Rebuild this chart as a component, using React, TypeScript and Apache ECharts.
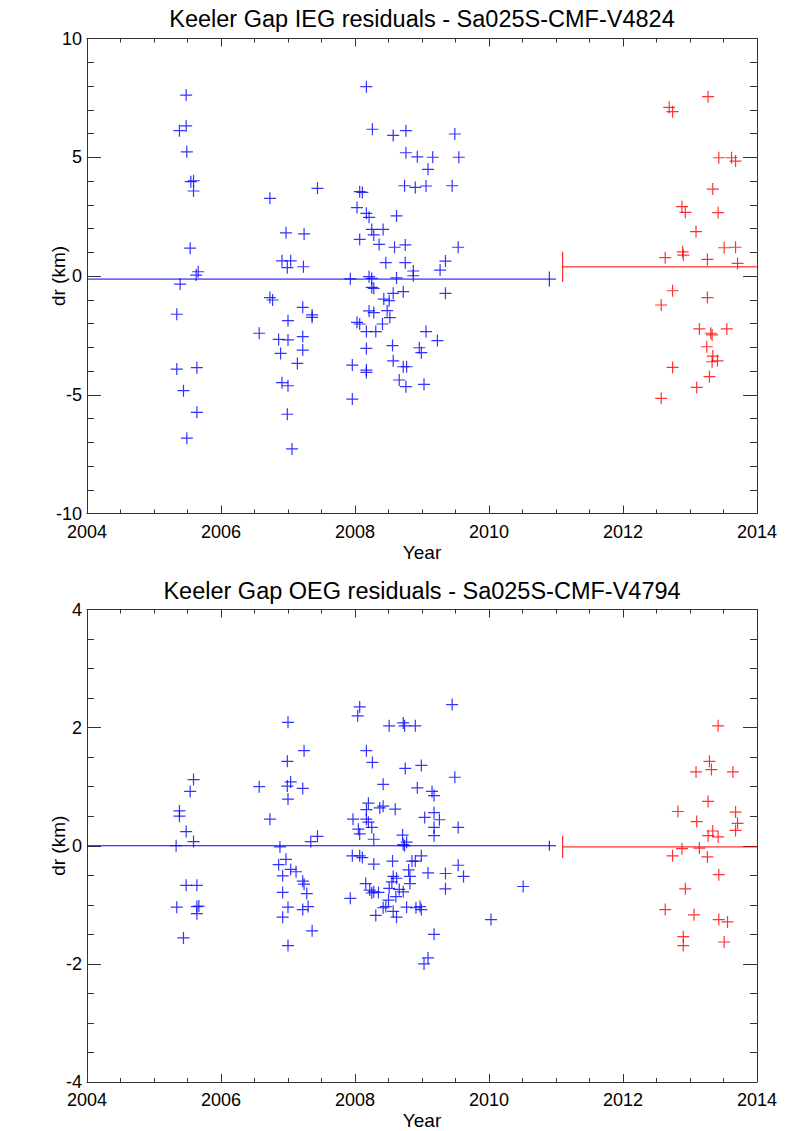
import React, { useEffect, useRef } from "react";
import * as echarts from "echarts";

// Keeler Gap inner edge (IEG) residuals, [year, dr km]
const iegEarly: number[][] = [
  [2005.48, 7.62], [2005.48, 6.32], [2005.38, 6.12], [2005.49, 5.23], [2005.55, 3.97], [2005.59, 4.01],
  [2005.59, 3.58], [2005.54, 1.17], [2005.66, 0.18], [2005.63, 0.04], [2006.73, 3.27], [2007.44, 3.69],
  [2006.97, 1.82], [2007.24, 1.77], [2006.91, 0.64], [2007.04, 0.64], [2006.99, 0.35], [2007.23, 0.39],
  [2005.39, -0.34], [2005.34, -1.61], [2005.34, -3.92], [2005.64, -3.86], [2005.44, -4.83], [2005.64, -5.74],
  [2005.49, -6.83], [2006.73, -0.91], [2006.77, -1.01], [2006.57, -2.41], [2007.0, -1.88], [2007.22, -1.32],
  [2007.36, -1.64], [2007.36, -1.74], [2006.86, -2.67], [2007.0, -2.69], [2007.22, -2.55], [2007.22, -3.12],
  [2006.89, -3.26], [2007.14, -3.68], [2006.91, -4.49], [2007.0, -4.62], [2006.99, -5.82], [2007.06, -7.28],
  [2008.17, 7.97], [2008.26, 6.18], [2008.57, 5.92], [2008.76, 6.12], [2009.49, 5.98], [2008.76, 5.19],
  [2008.93, 5.02], [2009.16, 5.0], [2009.55, 5.0], [2009.09, 4.49], [2008.74, 3.8], [2008.9, 3.73],
  [2009.06, 3.79], [2009.45, 3.8], [2008.07, 3.55], [2008.11, 3.52], [2008.03, 2.88], [2008.17, 2.64],
  [2008.21, 2.47], [2008.62, 2.53], [2008.25, 1.96], [2008.42, 1.96], [2008.07, 1.54], [2008.28, 1.73],
  [2008.36, 1.33], [2008.59, 1.21], [2008.75, 1.31], [2009.54, 1.21], [2008.46, 0.56], [2008.75, 0.56],
  [2009.35, 0.63], [2009.27, 0.25], [2008.87, 0.21], [2008.87, 0.01], [2008.21, -0.03], [2008.25, -0.1],
  [2007.93, -0.12], [2008.62, -0.08], [2008.25, -0.48], [2008.28, -0.52], [2008.57, -0.73], [2008.72, -0.66],
  [2009.35, -0.73], [2008.43, -0.97], [2008.51, -1.04], [2008.21, -1.47], [2008.28, -1.54], [2008.48, -1.46],
  [2008.52, -1.75], [2008.03, -1.95], [2008.07, -2.02], [2008.41, -2.02], [2008.17, -2.34], [2008.31, -2.34],
  [2009.06, -2.34], [2009.23, -2.72], [2008.17, -3.05], [2008.56, -2.93], [2008.96, -3.02], [2008.99, -3.23],
  [2007.96, -3.75], [2008.17, -3.96], [2008.17, -4.06], [2008.57, -3.57], [2008.72, -3.82], [2008.77, -3.82],
  [2008.66, -4.38], [2008.76, -4.66], [2009.03, -4.56], [2007.96, -5.18],
];

const iegLate: number[][] = [
  [2013.27, 7.55], [2012.69, 7.1], [2012.74, 6.92], [2013.43, 4.98], [2013.62, 4.98], [2013.68, 4.84],
  [2013.34, 3.66], [2012.88, 2.92], [2012.93, 2.68], [2013.42, 2.67], [2013.09, 1.87], [2013.51, 1.19],
  [2013.68, 1.21], [2012.89, 1.02], [2012.9, 0.88], [2012.63, 0.77], [2013.26, 0.7], [2013.71, 0.53],
  [2012.74, -0.62], [2013.26, -0.91], [2012.57, -1.22], [2013.14, -2.23], [2013.55, -2.23], [2013.31, -2.41],
  [2013.33, -2.48], [2013.25, -2.98], [2013.34, -3.37], [2013.33, -3.61], [2013.41, -3.57], [2012.74, -3.85],
  [2013.29, -4.24], [2013.1, -4.69], [2012.57, -5.15],
];

// Keeler Gap outer edge (OEG) residuals, [year, dr km]
const oegEarly: number[][] = [
  [2007.0, 2.09], [2007.24, 1.61], [2006.99, 1.43], [2005.59, 1.12], [2005.54, 0.92], [2006.57, 1.0],
  [2006.99, 1.01], [2007.04, 1.08], [2007.22, 0.97], [2007.0, 0.79], [2005.38, 0.59], [2005.38, 0.5],
  [2006.73, 0.45], [2005.48, 0.24], [2005.59, 0.07], [2007.34, 0.07], [2007.44, 0.16], [2005.33, 0.0],
  [2006.88, -0.02], [2006.97, -0.23], [2006.86, -0.32], [2006.92, -0.51], [2007.04, -0.4], [2007.12, -0.44],
  [2007.22, -0.6], [2007.24, -0.65], [2005.48, -0.67], [2005.64, -0.67], [2006.92, -0.79], [2007.28, -0.81],
  [2005.34, -1.04], [2005.64, -1.03], [2005.67, -1.02], [2005.64, -1.15], [2007.0, -1.04], [2007.3, -1.03],
  [2007.22, -1.08], [2006.92, -1.21], [2007.36, -1.44], [2005.44, -1.56], [2007.0, -1.69],
  [2008.07, 2.35], [2008.04, 2.2], [2009.45, 2.39], [2008.72, 2.08], [2008.74, 2.03], [2008.51, 2.03],
  [2008.9, 2.03], [2008.17, 1.61], [2008.26, 1.41], [2008.75, 1.31], [2008.99, 1.36], [2009.49, 1.16],
  [2008.42, 1.04], [2008.93, 0.98], [2009.15, 0.92], [2009.18, 0.85], [2008.2, 0.72], [2008.17, 0.61],
  [2008.37, 0.64], [2008.42, 0.67], [2008.6, 0.62], [2007.97, 0.45], [2008.17, 0.45], [2008.2, 0.4],
  [2008.05, 0.28], [2008.07, 0.2], [2008.25, 0.31], [2009.04, 0.48], [2009.18, 0.56], [2009.26, 0.44],
  [2009.18, 0.31], [2009.18, 0.17], [2009.54, 0.31], [2008.28, 0.11], [2008.71, 0.18], [2008.77, 0.06],
  [2008.74, 0.0], [2008.72, 0.02], [2007.96, -0.17], [2008.07, -0.17], [2008.11, -0.2], [2008.28, -0.31],
  [2008.56, -0.26], [2008.85, -0.26], [2008.9, -0.26], [2008.99, -0.17], [2009.54, -0.33], [2009.62, -0.52],
  [2009.09, -0.46], [2009.35, -0.47], [2009.35, -0.73], [2008.8, -0.41], [2008.82, -0.52], [2008.82, -0.64],
  [2008.57, -0.52], [2008.62, -0.55], [2008.55, -0.61], [2008.16, -0.64], [2008.22, -0.75], [2008.28, -0.78],
  [2008.25, -0.8], [2008.35, -0.79], [2008.51, -0.72], [2008.66, -0.74], [2008.72, -0.78], [2008.61, -0.86],
  [2008.5, -0.92], [2007.93, -0.89], [2008.46, -1.03], [2008.42, -1.05], [2008.57, -1.11], [2008.77, -1.04],
  [2008.91, -1.05], [2008.97, -1.03], [2008.99, -1.08], [2008.31, -1.18], [2008.62, -1.21], [2009.18, -1.5],
  [2009.09, -1.9], [2009.03, -2.0], [2010.51, -0.69], [2010.03, -1.25],
];

const oegLate: number[][] = [
  [2013.42, 2.03], [2013.29, 1.43], [2013.32, 1.29], [2013.09, 1.25], [2013.64, 1.25], [2013.27, 0.75],
  [2012.82, 0.58], [2013.68, 0.57], [2013.71, 0.38], [2013.1, 0.41], [2013.34, 0.25], [2013.68, 0.26],
  [2013.27, 0.17], [2013.42, 0.15], [2012.88, -0.05], [2013.14, -0.04], [2012.74, -0.17], [2013.26, -0.19],
  [2013.43, -0.49], [2012.93, -0.73], [2012.63, -1.08], [2013.06, -1.17], [2013.43, -1.25], [2013.56, -1.29],
  [2012.9, -1.54], [2012.9, -1.69], [2013.51, -1.63],
];

// Mean residual of each period: [start year, end year, mean, error-bar year, half error]
const iegEarlyMean = [2004, 2011.0, -0.13, 2010.9, 0.32];
const iegLateMean = [2011.1, 2014, 0.385, 2011.1, 0.64];
const oegEarlyMean = [2004, 2011.0, 0.0, 2010.9, 0.085];
const oegLateMean = [2011.1, 2014, -0.02, 2011.1, 0.19];

const titles = [
  "Keeler Gap IEG residuals - Sa025S-CMF-V4824",
  "Keeler Gap OEG residuals - Sa025S-CMF-V4794",
];

const BLUE = "#0000ff";
const RED = "#ff0000";
const AXIS = "#333333";
const FONT = '"Liberation Sans", Arial, Helvetica, sans-serif';
const PLUS = "path://M5.4,0H6.6V12H5.4Z M0,5.4H12V6.6H0Z";

const xAxisPair = (gridIndex: number) => {
  const common = {
    type: "value",
    gridIndex,
    min: 2004,
    max: 2014,
    interval: 2,
    splitLine: { show: false },
    minorSplitLine: { show: false },
    axisLine: { show: true, onZero: false, lineStyle: { color: AXIS, width: 1 } },
    axisTick: { show: true, inside: true, length: 8, lineStyle: { color: AXIS, width: 1 } },
    minorTick: { show: true, splitNumber: 4, length: 4, lineStyle: { color: AXIS, width: 1 } },
  };
  return [
    {
      ...common,
      position: "bottom",
      name: "Year",
      nameLocation: "middle",
      nameGap: 29,
      nameMoveOverlap: false,
      nameTextStyle: { fontSize: 19, color: "#000", fontFamily: FONT },
      axisLabel: {
        fontSize: 18,
        lineHeight: 16,
        color: "#000",
        fontFamily: FONT,
        margin: 10,
        formatter: (v: number) => String(v),
      },
    },
    { ...common, position: "top", axisLabel: { show: false } },
  ];
};

const yAxisPair = (gridIndex: number, min: number, max: number, interval: number, minorSplit: number) => {
  const common = {
    type: "value",
    gridIndex,
    min,
    max,
    interval,
    splitLine: { show: false },
    minorSplitLine: { show: false },
    axisLine: { show: true, onZero: false, lineStyle: { color: AXIS, width: 1 } },
    axisTick: { show: true, inside: true, length: 14, lineStyle: { color: AXIS, width: 1 } },
    minorTick: { show: true, splitNumber: minorSplit, length: 7, lineStyle: { color: AXIS, width: 1 } },
  };
  return [
    {
      ...common,
      position: "left",
      name: "dr (km)",
      nameLocation: "middle",
      nameGap: 19,
      nameMoveOverlap: false,
      nameTextStyle: { fontSize: 19, color: "#000", fontFamily: FONT },
      axisLabel: {
        fontSize: 18,
        lineHeight: 16,
        color: "#000",
        fontFamily: FONT,
        margin: 5,
        formatter: (v: number) => String(v),
      },
    },
    { ...common, position: "right", axisLabel: { show: false } },
  ];
};

const scatter = (data: number[][], color: string, axisIndex: number) => ({
  type: "scatter",
  xAxisIndex: axisIndex,
  yAxisIndex: axisIndex,
  data,
  symbol: PLUS,
  symbolSize: 12,
  itemStyle: { color },
  silent: true,
  z: 3,
});

const meanLines = (m: number[], color: string, axisIndex: number) => [
  {
    type: "line",
    xAxisIndex: axisIndex,
    yAxisIndex: axisIndex,
    data: [[m[0], m[2]], [m[1], m[2]]],
    showSymbol: false,
    lineStyle: { color, width: 1 },
    silent: true,
    z: 2,
  },
  {
    type: "line",
    xAxisIndex: axisIndex,
    yAxisIndex: axisIndex,
    data: [[m[3], m[2] - m[4]], [m[3], m[2] + m[4]]],
    showSymbol: false,
    lineStyle: { color, width: 1 },
    silent: true,
    z: 2,
  },
];

export default function App() {
  const ref = useRef<HTMLDivElement>(null);

  useEffect(() => {
    if (!ref.current) return;
    const chart = echarts.init(ref.current, undefined, { renderer: "svg" });
    const [xTop0, xTop1] = xAxisPair(0);
    const [xBot0, xBot1] = xAxisPair(1);
    const [yTop0, yTop1] = yAxisPair(0, -10, 10, 5, 5);
    const [yBot0, yBot1] = yAxisPair(1, -4, 4, 2, 4);

    const titleStyle = {
      fontSize: 23.5,
      fontFamily: FONT,
      fill: "#000",
      textAlign: "center",
      textVerticalAlign: "middle",
    };

    chart.setOption({
      animation: false,
      backgroundColor: "#ffffff",
      grid: [
        { left: 87, width: 670, top: 38.5, height: 475 },
        { left: 87, width: 670, top: 609.5, height: 476 },
      ],
      xAxis: [xTop0, xTop1, xBot0, xBot1],
      yAxis: [yTop0, yTop1, yBot0, yBot1],
      graphic: [
        { type: "text", x: 422, y: 19, style: { ...titleStyle, text: titles[0] } },
        { type: "text", x: 422, y: 591, style: { ...titleStyle, text: titles[1] } },
      ],
      series: [
        ...meanLines(iegEarlyMean, BLUE, 0),
        ...meanLines(iegLateMean, RED, 0),
        scatter(iegEarly, BLUE, 0),
        scatter(iegLate, RED, 0),
        ...meanLines(oegEarlyMean, BLUE, 2),
        ...meanLines(oegLateMean, RED, 2),
        scatter(oegEarly, BLUE, 2),
        scatter(oegLate, RED, 2),
      ],
    });
    return () => chart.dispose();
  }, []);

  return (
    <div
      ref={ref}
      style={{ position: "absolute", left: 0, top: 0, width: 795, height: 1131, background: "#fff" }}
    />
  );
}
